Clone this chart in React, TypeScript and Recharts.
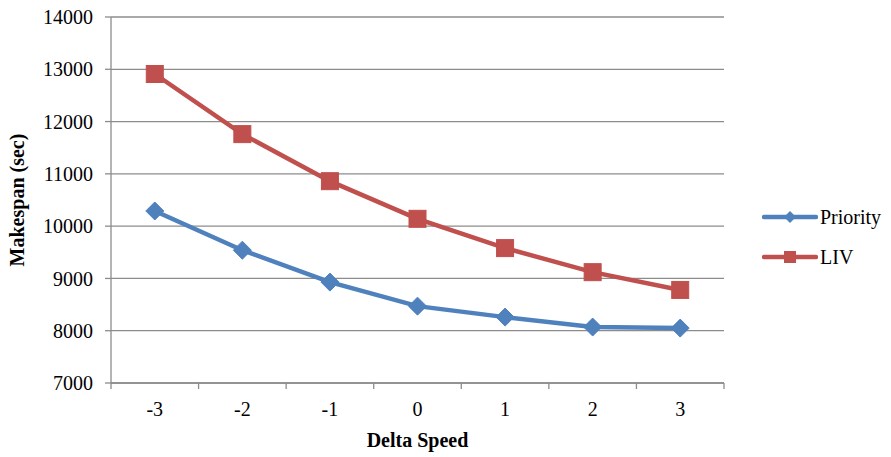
import React from 'react';
import { LineChart, Line, XAxis, YAxis, CartesianGrid } from 'recharts';

const categories = [-3, -2, -1, 0, 1, 2, 3];
const priority = [10290, 9540, 8930, 8470, 8260, 8070, 8050];
const liv = [12910, 11760, 10860, 10140, 9580, 9120, 8780];
const yTicks = [7000, 8000, 9000, 10000, 11000, 12000, 13000, 14000];
const xBoundaries = [-3.5, -2.5, -1.5, -0.5, 0.5, 1.5, 2.5, 3.5];

const data = categories.map((c, i) => ({ x: c, Priority: priority[i], LIV: liv[i] }));
const xTicks = [...xBoundaries, ...categories].sort((a, b) => a - b);

const BLUE = '#4F81BD';
const RED = '#C0504D';
const GRID = '#8C8C8C';
const FONT = 'Liberation Serif';

const Diamond = (props: any) => {
  const { cx, cy } = props;
  if (cx == null || cy == null) return null;
  const r = 9;
  return <path d={`M${cx},${cy - r}L${cx + r},${cy}L${cx},${cy + r}L${cx - r},${cy}Z`} fill={BLUE} stroke={BLUE} strokeWidth={1} />;
};

const Square = (props: any) => {
  const { cx, cy } = props;
  if (cx == null || cy == null) return null;
  const r = 8.5;
  return <rect x={cx - r} y={cy - r} width={2 * r} height={2 * r} fill={RED} stroke={RED} strokeWidth={1} />;
};

const XTick = (props: any) => {
  const { x, y, payload } = props;
  const v = payload.value;
  if (Number.isInteger(v)) {
    return (
      <text x={x} y={y + 19} dy="0.71em" textAnchor="middle" fontFamily={FONT} fontSize={20} fill="#000">
        {v}
      </text>
    );
  }
  return <line x1={x} y1={y} x2={x} y2={y + 6} stroke={GRID} strokeWidth={1.3} />;
};

const YTick = (props: any) => {
  const { x, y, payload } = props;
  return (
    <text x={x} y={y} dy="0.355em" textAnchor="end" fontFamily={FONT} fontSize={20} fill="#000">
      {payload.value}
    </text>
  );
};

const legendItems = [
  { name: 'Priority', color: BLUE, shape: 'diamond' },
  { name: 'LIV', color: RED, shape: 'square' },
];

export default function App() {
  return (
    <div style={{ margin: '-8px 0 0 -8px', width: 891, height: 457, position: 'relative', fontFamily: FONT }}>
      <div style={{ position: 'absolute', left: 762, top: 197, fontSize: 20, color: '#000', fontFamily: FONT, zIndex: 2 }}>
        {legendItems.map((it) => (
          <div key={it.name} style={{ display: 'flex', alignItems: 'center', height: 40 }}>
            <svg width={56} height={20} style={{ marginRight: 2 }}>
              <line x1={2} y1={10} x2={54} y2={10} stroke={it.color} strokeWidth={4.5} strokeLinecap="round" />
              {it.shape === 'diamond' ? (
                <path d="M28,4L34,10L28,16L22,10Z" fill={it.color} />
              ) : (
                <rect x={22} y={4} width={12} height={12} fill={it.color} />
              )}
            </svg>
            <span>{it.name}</span>
          </div>
        ))}
      </div>
      <LineChart width={891} height={457} data={data} margin={{ top: 17, right: 167, left: 0, bottom: 0 }}>
        <CartesianGrid horizontal={true} vertical={false} stroke={GRID} strokeWidth={1.3} />
        <XAxis
          dataKey="x"
          type="number"
          domain={[-3.5, 3.5]}
          ticks={xTicks}
          interval={0}
          tick={<XTick />}
          tickLine={false}
          tickSize={0}
          tickMargin={0}
          axisLine={{ stroke: GRID, strokeWidth: 1.3 }}
          height={74}
          label={{
            content: (p: any) => {
              const vb = p.viewBox;
              return (
                <text x={vb.x + vb.width / 2} y={447} textAnchor="middle" fontFamily={FONT} fontSize={20} fontWeight="bold" fill="#000">
                  Delta Speed
                </text>
              );
            },
          }}
        />
        <YAxis
          type="number"
          domain={[7000, 14000]}
          ticks={yTicks}
          interval={0}
          width={111}
          tickSize={6}
          tickMargin={12}
          tickLine={{ stroke: GRID, strokeWidth: 1.3 }}
          axisLine={{ stroke: GRID, strokeWidth: 1.3 }}
          tick={<YTick />}
          label={{
            content: (p: any) => {
              const vb = p.viewBox;
              const cy = vb.y + vb.height / 2;
              return (
                <text x={24} y={cy} transform={`rotate(-90, 24, ${cy})`} textAnchor="middle" fontFamily={FONT} fontSize={20} fontWeight="bold" fill="#000">
                  Makespan (sec)
                </text>
              );
            },
          }}
        />
        <Line dataKey="Priority" stroke={BLUE} strokeWidth={4.5} dot={<Diamond />} activeDot={false} isAnimationActive={false} />
        <Line dataKey="LIV" stroke={RED} strokeWidth={4.5} dot={<Square />} activeDot={false} isAnimationActive={false} />
      </LineChart>
    </div>
  );
}
